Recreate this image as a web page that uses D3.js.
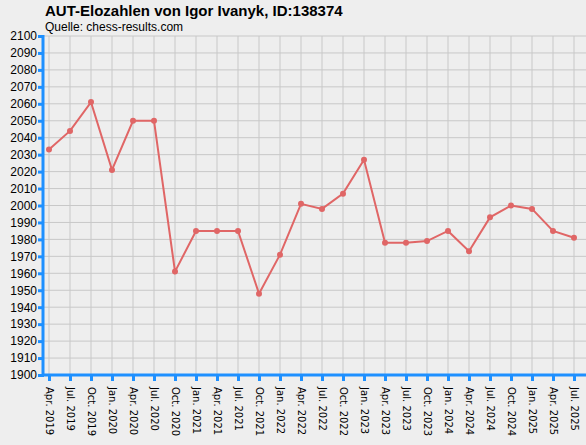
<!DOCTYPE html>
<html><head><meta charset="utf-8">
<script src="https://cdn.jsdelivr.net/npm/d3@7"></script>
<style>body{margin:0;background:#eeeeee;font-family:"Liberation Sans",Arial,sans-serif;}</style>
</head><body><svg id="c" width="586" height="445"></svg>
<script>
// data
var labels = ['Apr. 2019','Jul. 2019','Oct. 2019',
	'Jan. 2020','Apr. 2020','Jul. 2020','Oct. 2020',
	'Jan. 2021','Apr. 2021','Jul. 2021','Oct. 2021',
	'Jan. 2022','Apr. 2022','Jul. 2022','Oct. 2022',
	'Jan. 2023','Apr. 2023','Jul. 2023','Oct. 2023',
	'Jan. 2024','Apr. 2024','Jul. 2024','Oct. 2024',
	'Jan. 2025','Apr. 2025','Jul. 2025'];
var elo = [2033,2044,2061,2021,2050,2050,1961,1985,1985,1985,1948,1971,2001,1998,2007,2027,
	1978,1978,1979,1985,1973,1993,2000,1998,1985,1981];
var yTicks = d3.range(1900, 2101, 10);

var svg = d3.select('#c');
var pLeft = 43, pRight = 586, pTop = 36, pBottom = 375;

var x = d3.scalePoint().domain(labels).range([49, 574]);
var y = d3.scaleLinear().domain([1900, 2100]).range([pBottom, pTop]);

// grid
svg.append('g').selectAll('line').data(yTicks.slice(1)).enter().append('line')
	.attr('x1', pLeft).attr('x2', pRight).attr('y1', d => y(d)).attr('y2', d => y(d))
	.attr('stroke', '#c8c8c8');
svg.append('g').selectAll('line').data(labels).enter().append('line')
	.attr('x1', d => x(d)).attr('x2', d => x(d)).attr('y1', pTop).attr('y2', pBottom)
	.attr('stroke', '#c8c8c8');

// axes
var blue = '#1e90ff';
var ya = svg.append('g').attr('transform', 'translate(' + pLeft + ',0)')
	.call(d3.axisLeft(y).tickValues(yTicks).tickSize(5).tickFormat(d3.format('d')));
ya.select('.domain').attr('stroke', blue).attr('stroke-width', 3).attr('d', 'M0,' + (pTop - 1) + 'V' + (pBottom + 1));
ya.selectAll('.tick line').attr('stroke', blue).attr('stroke-width', 3).attr('x1', 1);
ya.selectAll('.tick text').attr('font-size', 12).attr('fill', '#000').attr('x', -6)
	.attr('font-family', '"Liberation Sans",Arial,sans-serif');

var xa = svg.append('g').attr('transform', 'translate(0,' + pBottom + ')')
	.call(d3.axisBottom(x).tickSize(6));
xa.select('.domain').attr('stroke', blue).attr('stroke-width', 3).attr('d', 'M' + pLeft + ',0H' + pRight);
xa.selectAll('.tick line').attr('stroke', blue).attr('stroke-width', 3);
xa.selectAll('.tick text').attr('font-size', 10).attr('fill', '#000')
	.attr('font-family', '"DejaVu Sans",sans-serif')
	.attr('transform', 'rotate(90)').attr('x', 12).attr('y', 0).attr('dy', '0.35em')
	.attr('text-anchor', 'start');

// line
var col = '#e06666';
svg.append('path').datum(elo)
	.attr('d', d3.line().x((d, i) => x(labels[i])).y(d => y(d)))
	.attr('fill', 'none').attr('stroke', col).attr('stroke-width', 2);
svg.append('g').selectAll('circle').data(elo).enter().append('circle')
	.attr('cx', (d, i) => x(labels[i])).attr('cy', d => y(d)).attr('r', 3)
	.attr('fill', col);

// titles
svg.append('text').attr('x', 45).attr('y', 16).attr('font-size', 15).attr('font-weight', 'bold')
	.text('AUT-Elozahlen von Igor Ivanyk, ID:138374');
svg.append('text').attr('x', 45).attr('y', 31).attr('font-size', 12)
	.text('Quelle: chess-results.com');
</script></body></html>
